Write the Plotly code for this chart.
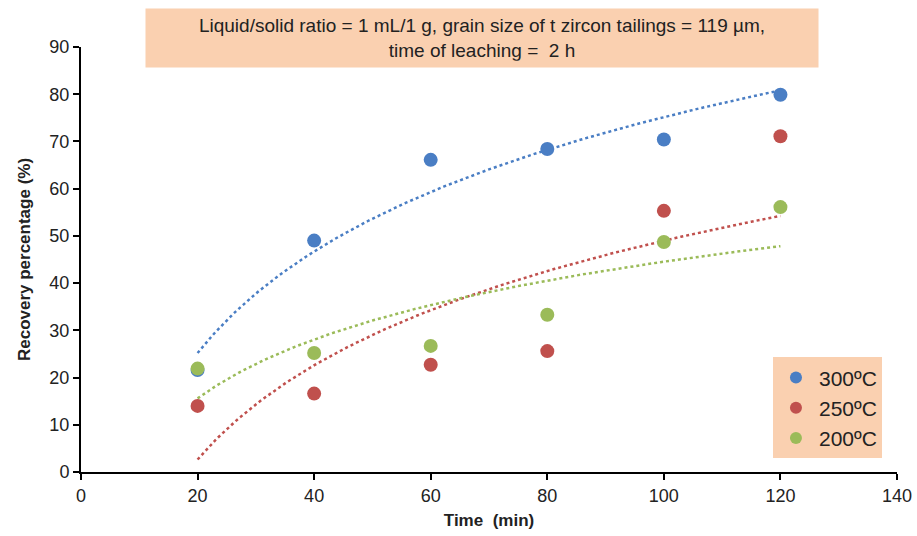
import numpy as np
import plotly.graph_objects as go

time_min = [20, 40, 60, 80, 100, 120]
rec_300 = [21.6, 49.0, 66.1, 68.4, 70.4, 79.9]
rec_250 = [14.0, 16.6, 22.7, 25.6, 55.3, 71.1]
rec_200 = [21.9, 25.2, 26.7, 33.3, 48.7, 56.1]
series_names = ["300ºC", "250ºC", "200ºC"]
colors = ["#4A7EC4", "#C0504D", "#9BBB59"]

fig = go.Figure()
xs = np.array(time_min, dtype=float)
xfit = np.linspace(20, 120, 200)
for name, vals, col in zip(series_names, [rec_300, rec_250, rec_200], colors):
    a, b = np.polyfit(np.log(xs), np.array(vals), 1)
    fig.add_trace(go.Scatter(x=xfit, y=a * np.log(xfit) + b, mode="lines",
                             line=dict(color=col, width=2.5, dash="dot"),
                             showlegend=False, hoverinfo="skip"))
for name, vals, col in zip(series_names, [rec_300, rec_250, rec_200], colors):
    fig.add_trace(go.Scatter(x=time_min, y=vals, mode="markers", name=name,
                             marker=dict(color=col, size=14)))

fig.update_layout(
    width=917, height=536,
    margin=dict(l=81, r=20, t=47, b=64),
    plot_bgcolor="white", paper_bgcolor="white",
    font=dict(family="Liberation Sans, Arial, sans-serif", color="#222", size=18),
    xaxis=dict(range=[0, 140], dtick=20, showgrid=False, zeroline=False,
               showline=True, linecolor="black", linewidth=2, automargin=False,
               ticks="outside", ticklen=6, tickwidth=2, tickcolor="black",
               tickfont=dict(size=18),
               title=dict(text="<b>Time  (min)</b>", font=dict(size=17), standoff=10)),
    yaxis=dict(range=[0, 90], dtick=10, showgrid=False, zeroline=False,
               showline=True, linecolor="black", linewidth=2, automargin=False,
               ticks="outside", ticklen=6, tickwidth=2, tickcolor="black",
               tickfont=dict(size=18),
               title=dict(text="<b>Recovery percentage (%)</b>", font=dict(size=17), standoff=14)),
    legend=dict(x=0.848, y=0.27, xanchor="left", yanchor="top",
                bgcolor="#FAD0B0", font=dict(size=21), itemsizing="constant",
                tracegroupgap=6, itemwidth=36),
    showlegend=True,
)
fig.add_annotation(
    x=0.491, y=1.092, xref="paper", yref="paper", xanchor="center", yanchor="top",
    text="Liquid/solid ratio = 1 mL/1 g, grain size of t zircon tailings = 119 µm,<br>time of leaching =  2 h",
    showarrow=False, bgcolor="#FAD0B0", width=660, borderpad=6,
    font=dict(size=19, color="#222"),
)
fig.write_html("out.html")
